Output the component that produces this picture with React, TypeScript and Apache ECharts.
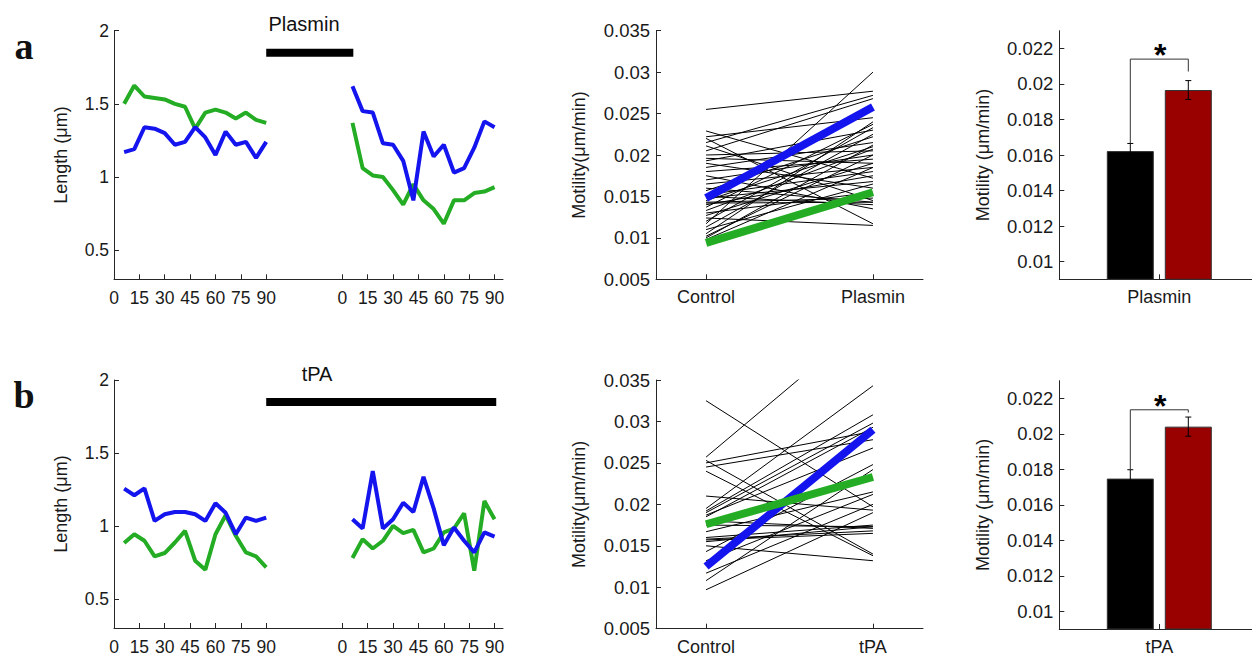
import { useEffect, useRef } from "react";
import * as echarts from "echarts";

// ---------- data ----------
const minutes = [6, 12, 18, 24, 30, 36, 42, 48, 54, 60, 66, 72, 78, 84, 90];
const minuteTicks = [0, 15, 30, 45, 60, 75, 90];
const lengthTicks = [0.5, 1, 1.5, 2];

// panel a (plasmin) – filament length, µm
const plasminBlueBefore = [1.17, 1.19, 1.34, 1.33, 1.3, 1.22, 1.24, 1.34, 1.27, 1.15, 1.31, 1.22, 1.24, 1.13, 1.24];
const plasminGreenBefore = [1.5, 1.625, 1.55, 1.54, 1.53, 1.5, 1.48, 1.33, 1.44, 1.46, 1.44, 1.4, 1.44, 1.39, 1.37];
const plasminBlueAfter = [1.62, 1.45, 1.44, 1.23, 1.22, 1.11, 0.84, 1.31, 1.14, 1.22, 1.03, 1.06, 1.2, 1.38, 1.34];
const plasminGreenAfter = [1.37, 1.06, 1.01, 1.0, 0.91, 0.81, 0.95, 0.84, 0.78, 0.68, 0.84, 0.84, 0.89, 0.9, 0.93];

// panel b (tPA)
const tpaBlueBefore = [1.255, 1.21, 1.257, 1.034, 1.08, 1.095, 1.095, 1.08, 1.034, 1.155, 1.09, 0.943, 1.057, 1.034, 1.057];
const tpaGreenBefore = [0.882, 0.943, 0.898, 0.791, 0.814, 0.886, 0.966, 0.761, 0.7, 0.943, 1.073, 0.932, 0.818, 0.791, 0.716];
const tpaBlueAfter = [1.045, 0.982, 1.375, 0.982, 1.045, 1.159, 1.095, 1.336, 1.12, 0.868, 0.989, 0.898, 0.818, 0.955, 0.927];
const tpaGreenAfter = [0.78, 0.909, 0.845, 0.898, 1.0, 0.95, 0.973, 0.818, 0.845, 0.955, 0.982, 1.086, 0.693, 1.17, 1.045];

// treatment bars (continuous minutes on the broken axis) and level
const plasminSpan = [90, 141.5];
const tpaSpan = [90, 226];
const treatmentLevel = [1.85, 1.85];

// motility pairs
const groupsA = ["Control", "Plasmin"];
const groupsB = ["Control", "tPA"];
const motilityControlA = [0.0255, 0.0229, 0.0222, 0.022, 0.0215, 0.0211, 0.0205, 0.02, 0.0196, 0.0193, 0.019, 0.0185, 0.018, 0.0175, 0.017, 0.0165, 0.016, 0.0157, 0.0152, 0.0148, 0.0145, 0.0142, 0.014, 0.0137, 0.0133, 0.013, 0.0127, 0.0124, 0.012, 0.0117, 0.0113, 0.011, 0.0105, 0.0102, 0.01, 0.0098, 0.0143, 0.015];
const motilityPlasminA = [0.0277, 0.0172, 0.0245, 0.0117, 0.0272, 0.0145, 0.0268, 0.0205, 0.019, 0.023, 0.016, 0.0215, 0.0195, 0.0135, 0.02, 0.0185, 0.0143, 0.0222, 0.018, 0.0168, 0.021, 0.0143, 0.0175, 0.0237, 0.0207, 0.0155, 0.019, 0.0115, 0.0233, 0.03, 0.0225, 0.0165, 0.024, 0.02, 0.0212, 0.0185, 0.0148, 0.014];
const motilityBlueA = [0.0148, 0.0258];
const motilityGreenA = [0.0094, 0.0155];

const motilityControlB = [0.0325, 0.0257, 0.0253, 0.025, 0.0245, 0.024, 0.021, 0.0195, 0.0192, 0.019, 0.0187, 0.018, 0.0175, 0.0167, 0.016, 0.0157, 0.0155, 0.015, 0.0143, 0.0132, 0.0117, 0.0108, 0.0097, 0.0158, 0.0185];
const motilityTpaB = [0.0197, 0.0426, 0.014, 0.0288, 0.0278, 0.0138, 0.0193, 0.0343, 0.0308, 0.0298, 0.0268, 0.0171, 0.0173, 0.0215, 0.0175, 0.0165, 0.0173, 0.0132, 0.0248, 0.0212, 0.02, 0.0242, 0.019, 0.0168, 0.0293];
const motilityBlueB = [0.0125, 0.029];
const motilityGreenB = [0.0176, 0.0233];

// bar panels
const barTicks = [0.01, 0.012, 0.014, 0.016, 0.018, 0.02, 0.022];
const barMeansA = [0.01622, 0.01966];
const barErrA = [0.00043, 0.00053];
const bracketFeetA = [0.01666, 0.0207];
const bracketTopA = 0.0214;
const barMeansB = [0.01748, 0.02041];
const barErrB = [0.0005, 0.00054];
const bracketFeetB = [0.018, 0.0212];
const bracketTopB = 0.02136;

// ---------- style / layout ----------
const FONT = "'Liberation Sans', Arial, sans-serif";
const BLUE = "#1414ee";
const GREEN = "#24ad24";
const DARKRED = "#990000";
const AXIS = "#262626";
const AFTER_OFFSET = 135;
const BAR_W = 47;
const BAR_GAP = 11;
const NAME_STYLE = { fontSize: 18, fontFamily: FONT, color: "#1a1a1a" };

const axisBase = (gi: number) => ({
  gridIndex: gi,
  axisLine: { show: true, onZero: false, lineStyle: { color: AXIS, width: 1 } },
  splitLine: { show: false },
});
const tick = (vals?: number[]) => ({
  show: true,
  inside: true,
  length: 5,
  lineStyle: { color: AXIS },
  ...(vals ? { customValues: vals } : {}),
});
const label = (extra: any) => ({ color: "#1a1a1a", fontSize: 18, fontFamily: FONT, ...extra });
const fmt3 = (v: number) => String(+v.toFixed(3));

function lengthSeries(gi: number, bb: number[], ba: number[], gb: number[], ga: number[], span: number[]) {
  const mk = (arr: number[], off: number, color: string) => ({
    type: "line",
    xAxisIndex: gi,
    yAxisIndex: gi,
    data: minutes.map((m, i) => [m + off, arr[i]]),
    symbol: "none",
    silent: true,
    lineStyle: { color, width: 4 },
  });
  return [
    mk(gb, 0, GREEN),
    mk(ga, AFTER_OFFSET, GREEN),
    mk(bb, 0, BLUE),
    mk(ba, AFTER_OFFSET, BLUE),
    {
      type: "line",
      xAxisIndex: gi,
      yAxisIndex: gi,
      data: span.map((t, i) => [t, treatmentLevel[i]]),
      symbol: "none",
      silent: true,
      lineStyle: { color: "#000", width: 8, cap: "butt" },
    },
  ];
}

function motilitySeries(gi: number, ctrl: number[], trt: number[], blue: number[], green: number[]) {
  const s: any[] = ctrl.map((c, i) => ({
    type: "line",
    xAxisIndex: gi,
    yAxisIndex: gi,
    data: [
      [1, c],
      [2, trt[i]],
    ],
    symbol: "none",
    silent: true,
    lineStyle: { color: "#000", width: 1 },
  }));
  const thick = (vals: number[], color: string) => ({
    type: "line",
    xAxisIndex: gi,
    yAxisIndex: gi,
    data: vals.map((v, i) => [i + 1, v]),
    symbol: "none",
    silent: true,
    z: 5,
    lineStyle: { color, width: 8, cap: "butt" },
  });
  s.push(thick(blue, BLUE), thick(green, GREEN));
  return s;
}

function barSeries(gi: number, means: number[], errs: number[], feet: number[], top: number) {
  return [
    {
      type: "bar",
      xAxisIndex: gi,
      yAxisIndex: gi,
      data: [means[0]],
      barWidth: BAR_W,
      barGap: (BAR_GAP / BAR_W) * 100 + "%",
      itemStyle: { color: "#000", borderColor: "#333", borderWidth: 1 },
      silent: true,
    },
    {
      type: "bar",
      xAxisIndex: gi,
      yAxisIndex: gi,
      data: [means[1]],
      barWidth: BAR_W,
      barGap: (BAR_GAP / BAR_W) * 100 + "%",
      itemStyle: { color: DARKRED, borderColor: "#333", borderWidth: 1 },
      silent: true,
    },
    {
      type: "custom",
      xAxisIndex: gi,
      yAxisIndex: gi,
      data: [[0, means[1]]],
      silent: true,
      z: 10,
      clip: false,
      renderItem: (_p: any, api: any) => {
        const cx = api.coord([0, means[0]])[0];
        const off = (BAR_W + BAR_GAP) / 2;
        const y = (v: number) => api.coord([0, v])[1];
        const children: any[] = [];
        [0, 1].forEach((k) => {
          const x = cx + (k === 0 ? -off : off);
          const yt = y(means[k] + errs[k]);
          const yb = y(means[k] - errs[k]);
          const st = { stroke: "#000", lineWidth: 1 };
          children.push({ type: "line", shape: { x1: x, y1: yt, x2: x, y2: yb }, style: st });
          children.push({ type: "line", shape: { x1: x - 3, y1: yt, x2: x + 3, y2: yt }, style: st });
          children.push({ type: "line", shape: { x1: x - 3, y1: yb, x2: x + 3, y2: yb }, style: st });
        });
        children.push({
          type: "polyline",
          shape: {
            points: [
              [cx - off, y(feet[0])],
              [cx - off, y(top)],
              [cx + off, y(top)],
              [cx + off, y(feet[1])],
            ],
          },
          style: { stroke: "#333", fill: null, lineWidth: 1 },
        });
        children.push({
          type: "text",
          x: cx + 1,
          y: y(top) - 4,
          style: {
            text: "*",
            fontSize: 32,
            fontWeight: "bold",
            fontFamily: FONT,
            align: "center",
            verticalAlign: "middle",
            fill: "#000",
          },
        });
        return { type: "group", children };
      },
    },
  ];
}

export default function App() {
  const ref = useRef<HTMLDivElement>(null);
  useEffect(() => {
    if (!ref.current) return;
    const chart = echarts.init(ref.current, undefined, { renderer: "svg" });

    const minuteAxisTicks = minuteTicks.concat(minuteTicks.map((t) => t + AFTER_OFFSET));
    const minuteFmt = (v: number) => String(v > 90 ? v - AFTER_OFFSET : v);

    const lengthX = (gi: number) => ({
      ...axisBase(gi),
      type: "value",
      min: 0,
      max: 230,
      axisTick: tick(minuteAxisTicks),
      axisLabel: label({ customValues: minuteAxisTicks, formatter: minuteFmt, margin: 10, fontSize: 17.5 }),
    });
    const lengthY = (gi: number) => ({
      ...axisBase(gi),
      type: "value",
      min: 0.3,
      max: 2,
      axisTick: tick(lengthTicks),
      axisLabel: label({ customValues: lengthTicks, margin: 5, fontSize: 17.5 }),
      name: "Length (μm)",
      nameLocation: "middle",
      nameRotate: 90,
      nameGap: 44,
      nameTextStyle: NAME_STYLE,
    });
    const motX = (gi: number, groups: string[]) => ({
      ...axisBase(gi),
      type: "value",
      min: 0.7,
      max: 2.3,
      axisTick: tick([1, 2]),
      axisLabel: label({ customValues: [1, 2], formatter: (v: number) => groups[Math.round(v) - 1], margin: 9 }),
    });
    const motY = (gi: number) => ({
      ...axisBase(gi),
      type: "value",
      min: 0.005,
      max: 0.035,
      interval: 0.005,
      axisTick: tick(),
      axisLabel: label({ formatter: fmt3, margin: 6, fontSize: 18.5 }),
      name: "Motility(μm/min)",
      nameLocation: "middle",
      nameRotate: 90,
      nameGap: 68,
      nameTextStyle: NAME_STYLE,
    });
    const barX = (gi: number, cat: string) => ({
      ...axisBase(gi),
      type: "category",
      data: [cat],
      axisTick: { ...tick(), alignWithLabel: true },
      axisLabel: label({ margin: 9 }),
    });
    const barY = (gi: number) => ({
      ...axisBase(gi),
      type: "value",
      min: 0.009,
      max: 0.023,
      axisTick: tick(barTicks),
      axisLabel: label({ customValues: barTicks, formatter: fmt3, margin: 6, fontSize: 18.5 }),
      name: "Motility (μm/min)",
      nameLocation: "middle",
      nameRotate: 90,
      nameGap: 67,
      nameTextStyle: NAME_STYLE,
    });

    chart.setOption({
      animation: false,
      backgroundColor: "#fff",
      textStyle: { fontFamily: FONT },
      grid: [
        { left: 114, top: 30.7, width: 389, height: 248.6 },
        { left: 114, top: 380, width: 389, height: 249.3 },
        { left: 656, top: 30.7, width: 267, height: 248.6 },
        { left: 656, top: 380, width: 267, height: 248.7 },
        { left: 1059.3, top: 30.7, width: 200, height: 248.6 },
        { left: 1059.3, top: 380.7, width: 200, height: 248.6 },
      ],
      xAxis: [lengthX(0), lengthX(1), motX(2, groupsA), motX(3, groupsB), barX(4, groupsA[1]), barX(5, groupsB[1])],
      yAxis: [lengthY(0), lengthY(1), motY(2), motY(3), barY(4), barY(5)],
      series: [
        ...lengthSeries(0, plasminBlueBefore, plasminBlueAfter, plasminGreenBefore, plasminGreenAfter, plasminSpan),
        ...lengthSeries(1, tpaBlueBefore, tpaBlueAfter, tpaGreenBefore, tpaGreenAfter, tpaSpan),
        ...motilitySeries(2, motilityControlA, motilityPlasminA, motilityBlueA, motilityGreenA),
        ...motilitySeries(3, motilityControlB, motilityTpaB, motilityBlueB, motilityGreenB),
        ...barSeries(4, barMeansA, barErrA, bracketFeetA, bracketTopA),
        ...barSeries(5, barMeansB, barErrB, bracketFeetB, bracketTopB),
      ],
      graphic: [
        {
          type: "text",
          x: 24,
          y: 46,
          style: { text: "a", fontSize: 38, fontWeight: "bold", fontFamily: "'Liberation Serif', serif", fill: "#111", align: "center", verticalAlign: "middle" },
        },
        {
          type: "text",
          x: 24,
          y: 395,
          style: { text: "b", fontSize: 38, fontWeight: "bold", fontFamily: "'Liberation Serif', serif", fill: "#111", align: "center", verticalAlign: "middle" },
        },
        {
          type: "text",
          x: 304,
          y: 24,
          style: { text: groupsA[1], fontSize: 20, fontFamily: FONT, fill: "#111", align: "center", verticalAlign: "middle" },
        },
        {
          type: "text",
          x: 317,
          y: 374,
          style: { text: groupsB[1], fontSize: 20, fontFamily: FONT, fill: "#111", align: "center", verticalAlign: "middle" },
        },
      ],
    });
    return () => chart.dispose();
  }, []);

  return (
    <div style={{ position: "fixed", left: 0, top: 0, width: 1252, height: 656, overflow: "hidden", background: "#fff" }}>
      <div ref={ref} style={{ width: 1260, height: 656 }} />
    </div>
  );
}
